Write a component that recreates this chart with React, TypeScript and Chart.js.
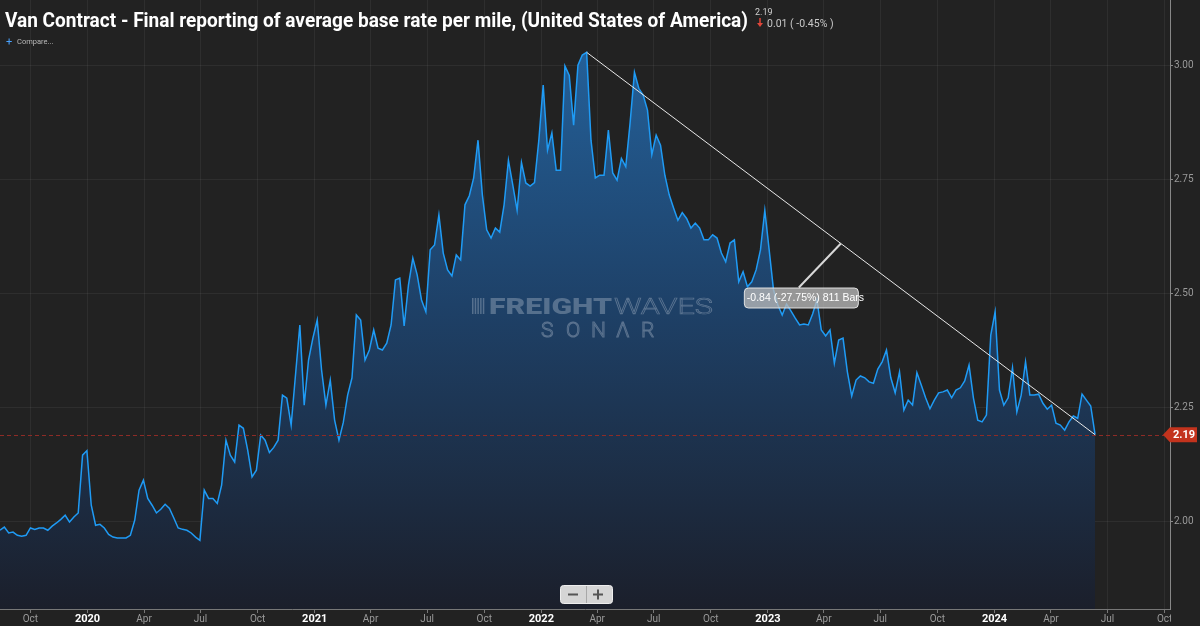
import React, { useEffect, useRef } from 'react';
import { Chart, registerables } from 'chart.js';

Chart.register(...registerables);

// ---------- text ----------
const TITLE = 'Van Contract - Final reporting of average base rate per mile, (United States of America)';
const LAST_VALUE_TEXT = '2.19';
const CHANGE_TEXT = '0.01 ( -0.45% )';
const MEASURE_TEXT = '-0.84 (-27.75%) 811 Bars';
const COMPARE_TEXT = 'Compare...';

// ---------- data ----------
const FIRST_WEEK = '2019-08-13'; // first weekly observation
const VIEW_END = '2024-10-09';
const LAST_VALUE = 2.19;

const weeklyRates: number[] = [
  1.980, 1.987, 1.974, 1.976, 1.969, 1.967, 1.969, 1.985, 1.982, 1.985,
  1.985, 1.980, 1.989, 1.996, 2.004, 2.013, 1.998, 2.009, 2.018, 2.145,
  2.155, 2.035, 1.991, 1.993, 1.985, 1.971, 1.965, 1.963, 1.963, 1.963,
  1.969, 2.002, 2.068, 2.090, 2.050, 2.035, 2.018, 2.026, 2.037, 2.028,
  2.007, 1.985, 1.982, 1.980, 1.974, 1.965, 1.958, 2.068, 2.050, 2.050,
  2.039, 2.079, 2.178, 2.145, 2.130, 2.211, 2.204, 2.156, 2.097, 2.112,
  2.189, 2.178, 2.151, 2.162, 2.178, 2.277, 2.270, 2.211, 2.321, 2.431,
  2.255, 2.354, 2.402, 2.442, 2.332, 2.255, 2.310, 2.222, 2.178, 2.217,
  2.277, 2.315, 2.453, 2.442, 2.354, 2.376, 2.420, 2.380, 2.376, 2.391,
  2.431, 2.530, 2.534, 2.429, 2.519, 2.578, 2.541, 2.486, 2.460, 2.596,
  2.607, 2.673, 2.589, 2.552, 2.539, 2.585, 2.574, 2.695, 2.715, 2.754,
  2.837, 2.717, 2.640, 2.622, 2.644, 2.635, 2.695, 2.793, 2.739, 2.683,
  2.788, 2.743, 2.736, 2.744, 2.837, 2.958, 2.815, 2.853, 2.771, 2.771,
  3.000, 2.979, 2.870, 3.002, 3.024, 3.030, 2.837, 2.754, 2.760, 2.760,
  2.859, 2.765, 2.749, 2.797, 2.779, 2.875, 2.986, 2.951, 2.936, 2.903,
  2.805, 2.848, 2.826, 2.760, 2.717, 2.688, 2.661, 2.678, 2.665, 2.644,
  2.655, 2.644, 2.618, 2.618, 2.629, 2.622, 2.589, 2.570, 2.611, 2.618,
  2.526, 2.548, 2.515, 2.526, 2.552, 2.596, 2.683, 2.596, 2.508, 2.475,
  2.453, 2.477, 2.462, 2.446, 2.431, 2.433, 2.431, 2.455, 2.486, 2.420,
  2.407, 2.420, 2.347, 2.398, 2.402, 2.328, 2.275, 2.310, 2.319, 2.315,
  2.306, 2.303, 2.334, 2.350, 2.376, 2.315, 2.282, 2.328, 2.244, 2.266,
  2.255, 2.326, 2.299, 2.271, 2.247, 2.266, 2.282, 2.284, 2.288, 2.271,
  2.288, 2.293, 2.308, 2.343, 2.271, 2.222, 2.218, 2.233, 2.409, 2.460,
  2.288, 2.255, 2.271, 2.337, 2.240, 2.277, 2.350, 2.277, 2.277, 2.279,
  2.259, 2.246, 2.255, 2.215, 2.211, 2.200, 2.218, 2.231, 2.226, 2.279,
  2.266, 2.253, 2.190,
];

const xTickMonths: string[] = [
  '2019-10', '2020-01', '2020-04', '2020-07', '2020-10',
  '2021-01', '2021-04', '2021-07', '2021-10',
  '2022-01', '2022-04', '2022-07', '2022-10',
  '2023-01', '2023-04', '2023-07', '2023-10',
  '2024-01', '2024-04', '2024-07', '2024-10',
];
const monthNames = ['Jan', 'Feb', 'Mar', 'Apr', 'May', 'Jun', 'Jul', 'Aug', 'Sep', 'Oct', 'Nov', 'Dec'];
const yTickValues: number[] = [2.0, 2.25, 2.5, 2.75, 3.0];
const Y_MIN = 1.807;
const Y_MAX = 3.145;

// ---------- helpers ----------
const EPOCH = Date.UTC(2020, 0, 1);
const dayOf = (iso: string) => (Date.parse(iso + 'T00:00:00Z') - EPOCH) / 86400000;
const monthDay = (ym: string) => dayOf(ym + '-01');
const yearTickDays = new Set(xTickMonths.filter((m) => m.endsWith('-01')).map(monthDay));
const labelForDay = new Map<number, string>(
  xTickMonths.map((m) => {
    const [y, mo] = m.split('-').map(Number);
    return [monthDay(m), mo === 1 ? String(y) : monthNames[mo - 1]];
  })
);

const startDay = dayOf(FIRST_WEEK);
const points = weeklyRates.map((v, i) => ({ x: startDay + 7 * i, y: v }));

const FONT = 'Roboto, "Noto Sans", sans-serif';

// draw text stretched/condensed to an exact width
function fitText(c: CanvasRenderingContext2D, text: string, x: number, y: number, width: number, stroke = false) {
  const w = c.measureText(text).width || 1;
  c.save();
  c.translate(x, y);
  c.scale(width / w, 1);
  if (stroke) {
    c.lineWidth = c.lineWidth * (w / width);
    c.strokeText(text, 0, 0);
  } else {
    c.fillText(text, 0, 0);
  }
  c.restore();
}

const backgroundPlugin = {
  id: 'bg',
  beforeDraw(chart: any) {
    const c = chart.ctx;
    c.save();
    c.fillStyle = '#222222';
    c.fillRect(0, 0, chart.width, chart.height);
    c.restore();
  },
};

const overlayPlugin = {
  id: 'overlay',
  afterDatasetsDraw(chart: any) {
    const c: CanvasRenderingContext2D = chart.ctx;
    const xs = chart.scales.x;
    const ys = chart.scales.y;
    const area = chart.chartArea;

    // watermark
    c.save();
    c.fillStyle = 'rgba(165,178,196,0.42)';
    c.strokeStyle = 'rgba(165,178,196,0.45)';
    for (let k = 0; k < 5; k++) {
      c.fillRect(472 + k * 2.7, 298, 1.5, 16);
    }
    c.textBaseline = 'alphabetic';
    c.textAlign = 'left';
    c.font = `900 22px ${FONT}`;
    fitText(c, 'FREIGHT', 489, 314, 123);
    c.font = `300 22px ${FONT}`;
    c.lineWidth = 1;
    fitText(c, 'WAVES', 614, 314, 99, true);
    c.font = `300 21px ${FONT}`;
    c.lineWidth = 1;
    const sonar = ['S', 'O', 'N', 'Λ', 'R'];
    sonar.forEach((ch, k) => c.strokeText(ch, 541 + k * 25, 337));
    c.restore();

    // last value dashed line
    const yLast = ys.getPixelForValue(LAST_VALUE);
    c.save();
    c.strokeStyle = '#8e2b26';
    c.lineWidth = 1;
    c.setLineDash([4, 3]);
    c.beginPath();
    c.moveTo(area.left, Math.round(yLast) + 0.5);
    c.lineTo(area.right, Math.round(yLast) + 0.5);
    c.stroke();
    c.restore();

    // trend measurement from peak to last
    let peakIdx = 0;
    weeklyRates.forEach((v, i) => {
      if (v > weeklyRates[peakIdx]) peakIdx = i;
    });
    const p1 = points[peakIdx];
    const p2 = points[points.length - 1];
    const x1 = xs.getPixelForValue(p1.x), y1 = ys.getPixelForValue(p1.y);
    const x2 = xs.getPixelForValue(p2.x), y2 = ys.getPixelForValue(p2.y);
    c.save();
    c.strokeStyle = '#e8e8e8';
    c.lineWidth = 1;
    c.beginPath();
    c.moveTo(x1, y1);
    c.lineTo(x2, y2);
    c.stroke();
    const mx = (x1 + x2) / 2, my = (y1 + y2) / 2;
    const bx = mx - 97, by = my + 44, bw = 114, bh = 20;
    c.strokeStyle = '#d8d8d8';
    c.lineWidth = 2;
    c.beginPath();
    c.moveTo(mx, my);
    c.lineTo(bx + 55, by);
    c.stroke();
    c.fillStyle = 'rgba(185,185,185,0.78)';
    c.strokeStyle = 'rgba(235,235,235,0.9)';
    c.lineWidth = 1;
    c.beginPath();
    (c as any).roundRect(bx + 0.5, by + 0.5, bw, bh, 4);
    c.fill();
    c.stroke();
    c.fillStyle = '#ffffff';
    c.font = '10.5px "Liberation Sans", Arial, sans-serif';
    c.textBaseline = 'middle';
    c.fillText(MEASURE_TEXT, bx + 3, by + bh / 2 + 1);
    c.restore();
  },
  afterDraw(chart: any) {
    const c: CanvasRenderingContext2D = chart.ctx;
    const ys = chart.scales.y;
    const area = chart.chartArea;

    // clip the cut x label under the price axis
    c.save();
    c.fillStyle = '#222222';
    c.fillRect(area.right + 1, area.bottom + 1, chart.width - area.right, chart.height - area.bottom);
    c.restore();

    // price tag
    const yLast = ys.getPixelForValue(LAST_VALUE);
    c.save();
    c.fillStyle = '#c3331d';
    c.beginPath();
    c.moveTo(area.right - 7, yLast);
    c.lineTo(area.right, yLast - 7.5);
    c.lineTo(1197, yLast - 7.5);
    c.lineTo(1197, yLast + 7.5);
    c.lineTo(area.right, yLast + 7.5);
    c.closePath();
    c.fill();
    c.fillStyle = '#ffffff';
    c.font = `bold 11px ${FONT}`;
    c.textAlign = 'center';
    c.textBaseline = 'middle';
    c.fillText(LAST_VALUE_TEXT, 1184, yLast + 0.5);
    c.restore();

    // title & header texts
    c.save();
    c.fillStyle = '#ffffff';
    c.font = `bold 21px ${FONT}`;
    c.textBaseline = 'alphabetic';
    c.textAlign = 'left';
    c.fillText(TITLE, 5, 27, 743);
    c.fillStyle = '#d0d0d0';
    c.font = `9px ${FONT}`;
    c.fillText(LAST_VALUE_TEXT, 755, 15);
    // red down arrow
    c.strokeStyle = '#e0463a';
    c.fillStyle = '#e0463a';
    c.lineWidth = 1.5;
    c.beginPath();
    c.moveTo(760, 18);
    c.lineTo(760, 24);
    c.stroke();
    c.beginPath();
    c.moveTo(757, 23);
    c.lineTo(763, 23);
    c.lineTo(760, 27);
    c.closePath();
    c.fill();
    c.fillStyle = '#c8c8c8';
    c.font = `10.5px ${FONT}`;
    c.fillText(CHANGE_TEXT, 767, 27);
    // compare
    c.fillStyle = '#4aa3ff';
    c.font = `11px ${FONT}`;
    c.fillText('+', 6, 45);
    c.fillStyle = '#b8b8b8';
    c.font = `7.5px ${FONT}`;
    c.fillText(COMPARE_TEXT, 17, 44);
    c.restore();

    // zoom buttons
    c.save();
    c.fillStyle = '#d5d5d5';
    c.strokeStyle = '#eeeeee';
    c.lineWidth = 1;
    c.beginPath();
    (c as any).roundRect(560.5, 585.5, 52, 18, 3);
    c.fill();
    c.stroke();
    c.strokeStyle = '#a8a8a8';
    c.beginPath();
    c.moveTo(586.5, 586);
    c.lineTo(586.5, 603);
    c.stroke();
    c.strokeStyle = '#555555';
    c.lineWidth = 2;
    c.beginPath();
    c.moveTo(568, 594.5);
    c.lineTo(578, 594.5);
    c.moveTo(593, 594.5);
    c.lineTo(603, 594.5);
    c.moveTo(598, 589.5);
    c.lineTo(598, 599.5);
    c.stroke();
    c.restore();
  },
};

export default function App() {
  const ref = useRef<HTMLCanvasElement | null>(null);

  useEffect(() => {
    if (!ref.current) return;
    const chart = new Chart(ref.current, {
      type: 'line',
      data: {
        datasets: [
          {
            data: points,
            borderColor: '#1f9bf5',
            borderWidth: 1.5,
            pointRadius: 0,
            tension: 0,
            fill: 'start',
            backgroundColor: (ctx: any) => {
              const { chart: ch } = ctx;
              const a = ch.chartArea;
              if (!a) return 'rgba(30,80,130,0.6)';
              const g = ch.ctx.createLinearGradient(0, a.top, 0, a.bottom);
              g.addColorStop(0, '#2566a2');
              g.addColorStop(0.5, '#1e4168');
              g.addColorStop(1, '#1b1f2b');
              return g;
            },
          },
        ],
      },
      options: {
        responsive: false,
        animation: false,
        maintainAspectRatio: false,
        layout: { padding: 0 },
        plugins: { legend: { display: false }, tooltip: { enabled: false }, title: { display: false } },
        scales: {
          x: {
            type: 'linear',
            min: startDay,
            max: dayOf(VIEW_END) + 0.7,
            afterFit: (s: any) => {
              s.height = 17;
              s.paddingLeft = 0;
              s.paddingRight = 0;
            },
            afterBuildTicks: (s: any) => {
              s.ticks = xTickMonths.map((m) => ({ value: monthDay(m) }));
            },
            grid: {
              color: 'rgba(255,255,255,0.055)',
              tickColor: '#777777',
              tickLength: 4,
            },
            border: { color: '#777777' },
            ticks: {
              autoSkip: false,
              maxRotation: 0,
              padding: 0,
              callback: (v: any) => labelForDay.get(Number(v)) ?? '',
              color: (ctx: any) => (ctx.tick && yearTickDays.has(ctx.tick.value) ? '#ffffff' : '#9a9a9a'),
              font: (ctx: any) =>
                ctx.tick && yearTickDays.has(ctx.tick.value)
                  ? { family: FONT, size: 11, weight: 'bold' }
                  : { family: FONT, size: 10 },
            },
          },
          y: {
            type: 'linear',
            position: 'right',
            min: Y_MIN,
            max: Y_MAX,
            afterFit: (s: any) => {
              s.width = 30;
              s.paddingTop = 0;
              s.paddingBottom = 0;
            },
            afterBuildTicks: (s: any) => {
              s.ticks = yTickValues.map((v) => ({ value: v }));
            },
            grid: {
              color: 'rgba(255,255,255,0.055)',
              tickColor: '#888888',
              tickLength: 3,
            },
            border: { color: '#888888' },
            ticks: {
              padding: 1,
              color: '#9a9a9a',
              font: { family: FONT, size: 10 },
              callback: (v: any) => Number(v).toFixed(2),
            },
          },
        },
      },
      plugins: [backgroundPlugin, overlayPlugin],
    } as any);
    return () => chart.destroy();
  }, []);

  return (
    <div style={{ position: 'fixed', left: 0, top: 0, width: 1200, height: 626, background: '#222222' }}>
      <canvas ref={ref} width={1200} height={626} style={{ display: 'block', width: 1200, height: 626 }} />
    </div>
  );
}
